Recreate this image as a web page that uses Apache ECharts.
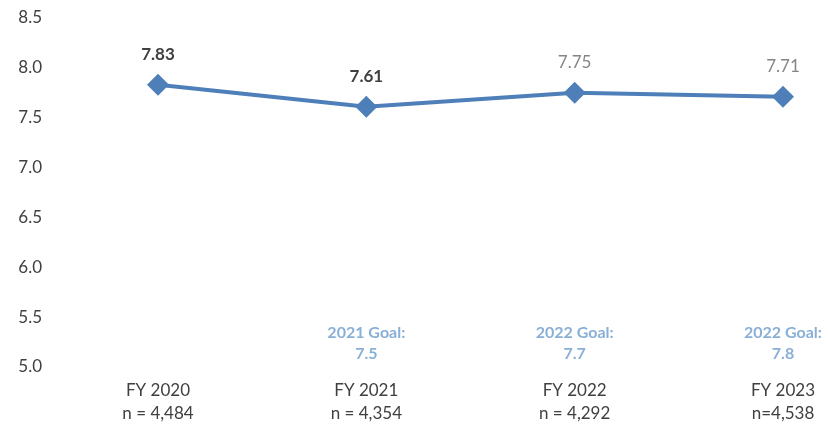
<!DOCTYPE html>
<html>
<head>
<meta charset="utf-8">
<script src="https://cdn.jsdelivr.net/npm/echarts@6/dist/echarts.min.js"></script>
<style>
  html, body { margin: 0; padding: 0; background: #fff; }
  #main { width: 828px; height: 426px; }
</style>
</head>
<body>
<div id="main"></div>
<script>
// chart data
const years = ['FY 2020', 'FY 2021', 'FY 2022', 'FY 2023'];
const sampleSizes = ['n = 4,484', 'n = 4,354', 'n = 4,292', 'n=4,538'];
const scores = [7.83, 7.61, 7.75, 7.71];
const goalTitles = [null, '2021 Goal:', '2022 Goal:', '2022 Goal:'];
const goalValues = [null, '7.5', '7.7', '7.8'];

const FONT = 'Lato, "Open Sans", sans-serif';
const BLUE = '#4e7fb9';

// first two labels are bold dark, the rest light grey
const boldLabels = [true, true, false, false];

const chartDom = document.getElementById('main');
const myChart = echarts.init(chartDom, undefined, { renderer: 'canvas' });

const option = {
  animation: false,
  grid: { left: 158, right: 45, top: 18, bottom: 59 },
  xAxis: {
    type: 'category',
    boundaryGap: false,
    data: years,
    axisLine: { show: false },
    axisTick: { show: false },
    splitLine: { show: false },
    axisLabel: {
      margin: 12,
      fontFamily: FONT,
      fontSize: 17,
      lineHeight: 23,
      color: '#404040',
      formatter: (v, i) => v + '\n' + sampleSizes[i]
    }
  },
  yAxis: {
    type: 'value',
    min: 5,
    max: 8.5,
    interval: 0.5,
    axisLine: { show: false },
    axisTick: { show: false },
    splitLine: { show: false },
    axisLabel: {
      margin: 116,
      fontFamily: FONT,
      fontSize: 17,
      color: '#404040',
      formatter: v => v.toFixed(1)
    }
  },
  series: [
    {
      name: 'score',
      type: 'line',
      data: scores.map((v, i) => ({
        value: v,
        label: boldLabels[i]
          ? { color: '#404040', fontWeight: 'bold' }
          : { color: '#858585', fontWeight: 'normal' }
      })),
      symbol: 'diamond',
      symbolSize: 22,
      lineStyle: { color: BLUE, width: 4 },
      itemStyle: { color: BLUE },
      label: {
        show: true,
        position: 'top',
        distance: 11,
        fontFamily: FONT,
        fontSize: 17,
        formatter: p => p.value.toFixed(2)
      }
    },
    {
      name: 'goal',
      type: 'scatter',
      symbolSize: 1,
      itemStyle: { color: 'rgba(0,0,0,0)' },
      data: goalValues.map((g, i) => (g === null ? null : [i, 5])),
      label: {
        show: true,
        position: 'top',
        distance: 2,
        fontFamily: FONT,
        fontSize: 16,
        lineHeight: 21,
        fontWeight: 'bold',
        color: '#6a9bcc',
        align: 'center',
        formatter: p => goalTitles[p.dataIndex] + '\n' + goalValues[p.dataIndex]
      }
    }
  ]
};

myChart.setOption(option);
window.addEventListener('resize', () => {
  myChart.resize();
});
</script>
</body>
</html>
